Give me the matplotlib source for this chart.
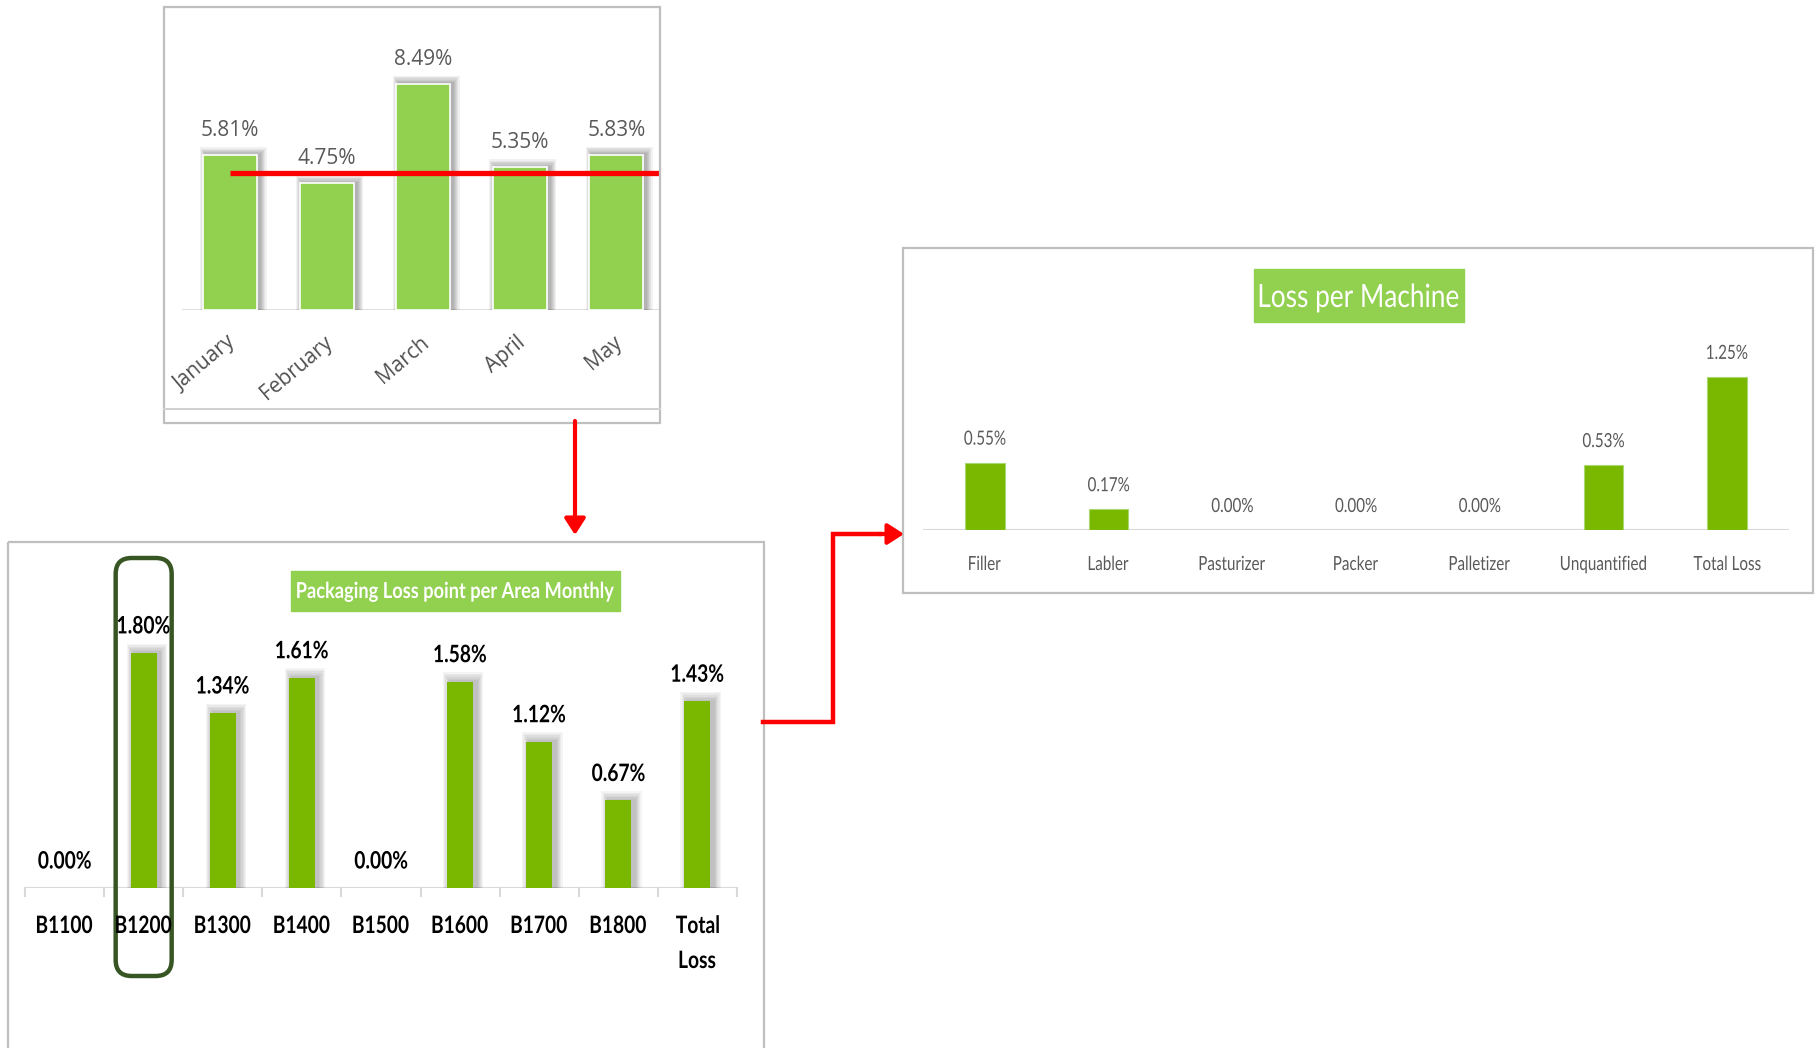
import matplotlib.pyplot as plt
from matplotlib.patches import Rectangle, FancyBboxPatch, FancyArrowPatch, PathPatch
from matplotlib.textpath import TextPath
from matplotlib.font_manager import FontProperties
from matplotlib.transforms import Affine2D

W, H = 1817, 1048
DPI = 100

# monthly packaging loss
months = ["January", "February", "March", "April", "May"]
month_loss = [5.81, 4.75, 8.49, 5.35, 5.83]
month_target = 5.15

# loss per area for the month
areas = ["B1100", "B1200", "B1300", "B1400", "B1500", "B1600", "B1700", "B1800", "Total\nLoss"]
area_loss = [0.00, 1.80, 1.34, 1.61, 0.00, 1.58, 1.12, 0.67, 1.43]
focus_area = "B1200"

# loss per machine inside the focus area
machines = ["Filler", "Labler", "Pasturizer", "Packer", "Palletizer", "Unquantified", "Total Loss"]
machine_loss = [0.55, 0.17, 0.00, 0.00, 0.00, 0.53, 1.25]

LIGHT_GREEN = "#92D050"
GREEN = "#7AB800"
GREY_TXT = "#595959"


def box(x0, y0, x1, y1):
    # pixel box (top-left origin) -> figure fraction rect
    return [x0 / W, 1 - y1 / H, (x1 - x0) / W, (y1 - y0) / H]


def narrow(x, y, s, size, color="black", weight="normal", sx=0.8, line_gap=35, zorder=8):
    # condensed text drawn as a path; x, y are display pixels of the first baseline centre
    prop = FontProperties(family="Lato", weight=weight)
    for k, line in enumerate(s.split("\n")):
        path = TextPath((0, 0), line, size=size, prop=prop)
        ext = path.get_extents()
        tr = Affine2D().translate(-(ext.x0 + ext.x1) / 2, 0).scale(sx, 1).translate(x, y - k * line_gap)
        fig.add_artist(PathPatch(path, transform=tr, facecolor=color, edgecolor="none", zorder=zorder))


def narrow_at(ax, xy, s, size, dy, **kw):
    x, y = ax.transData.transform(xy)
    narrow(x, y + dy, s, size, **kw)


fig = plt.figure(figsize=(W / DPI, H / DPI), dpi=DPI)
fig.patch.set_facecolor("white")

# overlay in pixel coordinates for frames and connectors
ov = fig.add_axes([0, 0, 1, 1], zorder=5)
ov.set_xlim(0, W)
ov.set_ylim(H, 0)
ov.axis("off")
ov.patch.set_alpha(0)

# ---- monthly chart ----
ax1 = fig.add_axes(box(182, 20, 660, 310))
x1 = range(len(months))
ax1.set_xlim(-0.5, -0.5 + (660 - 182) / 96.5)
ax1.set_ylim(0, (310 - 20) / 26.65)
ax1.axis("off")
for k in range(1, 7):
    ax1.bar([i + 0.03 for i in x1], [v + 0.05 * k for v in month_loss], width=0.56 + 0.022 * k,
            color="black", alpha=0.055, linewidth=0, zorder=1)
ax1.bar(x1, month_loss, width=0.56, color=LIGHT_GREEN, edgecolor="white", linewidth=1.2, zorder=2)
ax1.plot([0, ax1.get_xlim()[1]], [month_target, month_target], color="#FF0000", lw=3.8, zorder=3,
         solid_capstyle="butt", clip_on=False)
ax1.axhline(0, color="#D9D9D9", lw=1.2, zorder=0)
for i, v in zip(x1, month_loss):
    ax1.annotate(f"{v:.2f}%", (i, v), xytext=(0, 19), textcoords="offset pixels", ha="center",
                 va="baseline", fontsize=15, color=GREY_TXT, family="Open Sans", zorder=4)
    ax1.annotate(months[i], (i, 0), xytext=(3, -30), textcoords="offset pixels", ha="right",
                 va="center", rotation=40, rotation_mode="anchor", fontsize=15, color="#505050",
                 family="Open Sans")

# ---- area chart ----
ax2 = fig.add_axes(box(25, 545, 737, 888))
x2 = range(len(areas))
ax2.set_xlim(-0.5, len(areas) - 0.5)
ax2.set_ylim(0, (888 - 545) / 130.6)
ax2.axis("off")
for k in range(1, 7):
    ax2.bar([i + 0.04 for i in x2], [v + 0.012 * k if v > 0 else 0 for v in area_loss],
            width=0.33 + 0.03 * k, color="black", alpha=0.045, linewidth=0, zorder=1)
ax2.bar(x2, area_loss, width=0.33, color=GREEN, linewidth=0, zorder=2)
ax2.axhline(0, color="#D9D9D9", lw=1.5, zorder=0)
for b in range(len(areas) + 1):
    ax2.plot([b - 0.5, b - 0.5], [0, -0.06], color="#D9D9D9", lw=1.5, clip_on=False)
for i, v in zip(x2, area_loss):
    narrow_at(ax2, (i, v), f"{v:.2f}%", 24, 19.5, weight="bold", sx=0.8)
    narrow_at(ax2, (i, 0), areas[i], 24, -45, weight="bold", sx=0.8)
ov.add_patch(Rectangle((291, 571), 329, 40, color=LIGHT_GREEN, zorder=1))
narrow(455.5, H - 598, "Packaging Loss point per Area Monthly", 22, color="white",
       weight="bold", sx=0.83)

# highlight around the focus area
fi = areas.index(focus_area)
cx = 25 + (fi + 0.5) * (737 - 25) / len(areas)
ov.add_patch(FancyBboxPatch((cx - 28, 558), 56, 418, boxstyle="round,pad=0,rounding_size=16",
                            fill=False, edgecolor="#375623", lw=3.2, zorder=3))

# ---- machine chart ----
ax3 = fig.add_axes(box(923, 255, 1789, 530))
x3 = range(len(machines))
ax3.set_xlim(-0.5, len(machines) - 0.5)
ax3.set_ylim(0, (530 - 255) / 122.5)
ax3.axis("off")
ax3.bar(x3, machine_loss, width=0.32, color=GREEN, edgecolor="#A9D86E", linewidth=0.8, zorder=2)
ax3.axhline(0, color="#D9D9D9", lw=1.5, zorder=0)
for i, v in zip(x3, machine_loss):
    narrow_at(ax3, (i, v), f"{v:.2f}%", 19.5, 18, color=GREY_TXT, sx=0.78)
    narrow_at(ax3, (i, 0), machines[i], 19.5, -40, color=GREY_TXT, sx=0.78)
ov.add_patch(Rectangle((1254, 269), 210, 53, color=LIGHT_GREEN, zorder=1))
narrow(1359, H - 307, "Loss per Machine", 32, color="white", sx=0.82)

# ---- frames ----
frame = dict(fill=False, edgecolor="#BFBFBF", lw=1.6)
ov.add_patch(Rectangle((164, 7), 496, 416, **frame))
ov.plot([164, 660], [409, 409], color="#D0D0D0", lw=1.4)
ov.add_patch(Rectangle((8, 542), 756, 520, **frame))
ov.add_patch(Rectangle((903, 248), 910, 345, **frame))

# ---- connectors ----
red = dict(arrowstyle="-|>,head_length=0.7,head_width=0.45", color="#FF0000", lw=3, shrinkA=0,
           shrinkB=0, mutation_scale=14, zorder=6)
ov.add_patch(FancyArrowPatch((575, 421), (575, 535), **red))
ov.plot([763, 833, 833, 880], [722, 722, 534, 534], color="#FF0000", lw=3.2,
        solid_joinstyle="miter", zorder=6)
ov.add_patch(FancyArrowPatch((878, 534), (904, 534), **red))

fig.savefig("out.png", dpi=DPI, facecolor="white")
